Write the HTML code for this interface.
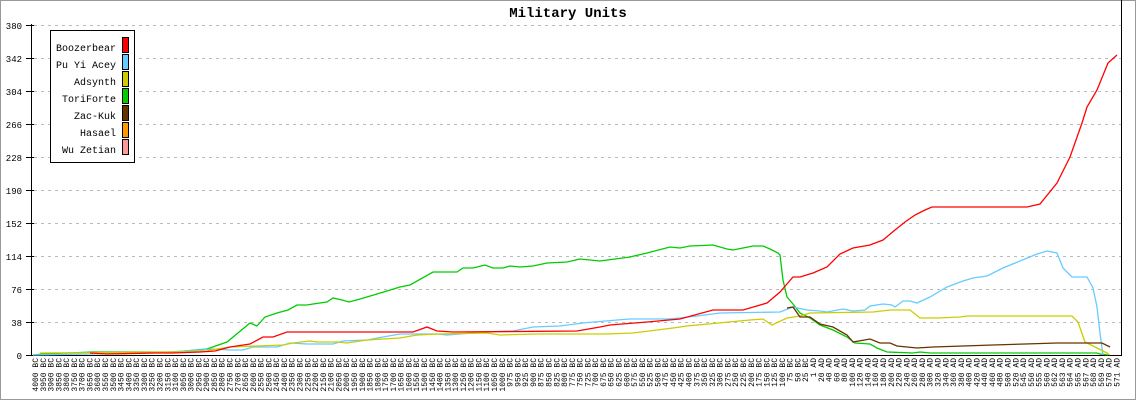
<!DOCTYPE html>
<html><head><meta charset="utf-8"><style>
html,body{margin:0;padding:0;background:#fff;}
svg{display:block;}
text{font-family:"Liberation Mono","DejaVu Sans Mono",monospace;}
</style></head><body>
<svg width="1136" height="400" viewBox="0 0 1136 400" xmlns="http://www.w3.org/2000/svg">
<rect x="0.5" y="0.5" width="1135" height="399" fill="#fff" stroke="#999"/>
<text x="568" y="17" text-anchor="middle" font-size="14" font-weight="bold">Military Units</text>
<g stroke="#bbb" stroke-dasharray="3,4" stroke-width="1">
<line x1="34" x2="1121" y1="25.5" y2="25.5"/><line x1="34" x2="1121" y1="58.5" y2="58.5"/>
<line x1="34" x2="1121" y1="91.5" y2="91.5"/><line x1="34" x2="1121" y1="124.5" y2="124.5"/>
<line x1="34" x2="1121" y1="157.5" y2="157.5"/><line x1="34" x2="1121" y1="190.5" y2="190.5"/>
<line x1="34" x2="1121" y1="223.5" y2="223.5"/><line x1="34" x2="1121" y1="256.5" y2="256.5"/>
<line x1="34" x2="1121" y1="289.5" y2="289.5"/><line x1="34" x2="1121" y1="322.5" y2="322.5"/>
</g>
<g stroke="#000" stroke-width="1">
<line x1="31.5" y1="24" x2="31.5" y2="356"/>
<line x1="31" y1="355.5" x2="1122" y2="355.5"/>
<line x1="1121.5" y1="0" x2="1121.5" y2="356"/>
<line x1="26" x2="34" y1="25.5" y2="25.5"/><line x1="26" x2="34" y1="58.5" y2="58.5"/>
<line x1="26" x2="34" y1="91.5" y2="91.5"/><line x1="26" x2="34" y1="124.5" y2="124.5"/>
<line x1="26" x2="34" y1="157.5" y2="157.5"/><line x1="26" x2="34" y1="190.5" y2="190.5"/>
<line x1="26" x2="34" y1="223.5" y2="223.5"/><line x1="26" x2="34" y1="256.5" y2="256.5"/>
<line x1="26" x2="34" y1="289.5" y2="289.5"/><line x1="26" x2="34" y1="322.5" y2="322.5"/>
<line x1="26" x2="34" y1="355.5" y2="355.5"/>
</g>
<g font-size="9" text-anchor="end">
<text x="22" y="29">380</text><text x="22" y="62">342</text><text x="22" y="95">304</text>
<text x="22" y="128">266</text><text x="22" y="161">228</text><text x="22" y="194">190</text>
<text x="22" y="227">152</text><text x="22" y="260">114</text><text x="22" y="293">76</text>
<text x="22" y="326">38</text><text x="22" y="359">0</text>
</g>
<g fill="none" stroke-width="1.3">
<polyline stroke="#00cc00" points="33,355 43,354 93,352 173,352 207,349 227,342 250,323 257,326 265,317 277,313 288,310 297,305 307,305 313,304 327,302 333,298 342,300 349,302 360,299 377,294 400,287 410,285 433,272 457,272 463,268 473,268 485,265 493,268 503,268 510,266 520,267 533,266 547,263 567,262 580,259 600,261 630,257 647,253 670,247 680,248 690,246 713,245 727,249 733,250 753,246 763,246 770,249 778,253 780,255 783,280 787,297 793,304 800,313 810,318 820,325 833,330 847,337 855,343 870,344 877,348 887,352 913,353 920,352 930,353 1013,353 1017,353 1097,353 1100,354 1108,355"/>
<polyline stroke="#66ccff" points="33,355 87,354 153,353 200,350 213,349 230,350 243,350 253,347 277,347 290,343 307,344 333,344 343,341 367,340 383,337 400,334 437,334 447,335 460,334 483,332 513,331 533,327 560,326 583,323 617,320 630,319 667,319 680,318 697,316 720,313 780,312 793,307 807,310 820,311 827,312 843,309 853,311 865,310 870,306 883,304 892,305 895,307 903,301 910,301 917,303 930,297 947,287 963,281 973,278 987,276 1003,268 1020,261 1037,254 1047,251 1057,253 1063,268 1072,277 1087,277 1093,288 1097,307 1100,333 1103,355"/>
<polyline stroke="#cccc00" points="40,353 173,352 207,351 210,350 230,347 257,346 283,345 293,343 310,341 317,342 337,342 347,343 367,340 400,338 417,335 440,334 487,333 500,335 537,334 583,334 607,334 633,333 673,328 687,326 750,320 763,319 772,325 787,318 800,316 810,313 873,312 890,310 910,310 920,318 937,318 960,317 967,316 1072,316 1078,322 1085,342 1097,348 1107,353 1110,355"/>
<polyline stroke="#663300" points="787,308 793,307 800,317 810,317 820,324 833,327 847,335 853,342 870,339 880,343 890,343 897,346 917,348 933,347 963,346 993,345 1025,344 1057,343 1087,343 1102,343 1110,347"/>
<polyline stroke="#ff0000" points="90,353 107,354 153,353 173,353 200,352 215,351 230,347 250,344 263,337 273,337 287,332 300,332 413,332 427,327 437,331 453,332 577,331 600,327 610,325 647,322 680,319 713,310 743,310 767,303 780,292 793,277 800,277 813,273 827,267 840,254 853,248 870,245 883,240 895,230 905,222 915,215 925,210 932,207 1027,207 1040,204 1057,183 1070,157 1082,123 1087,107 1097,90 1108,63 1117,55"/>
</g>
<rect x="50.5" y="30.5" width="84" height="132" fill="#fff" stroke="#000"/>
<g font-size="10" text-anchor="end">
<text x="116" y="51">Boozerbear</text><text x="116" y="68">Pu Yi Acey</text>
<text x="116" y="85">Adsynth</text><text x="116" y="102">ToriForte</text>
<text x="116" y="119">Zac-Kuk</text><text x="116" y="136">Hasael</text>
<text x="116" y="153">Wu Zetian</text>
</g>
<g stroke="#000">
<rect x="122.5" y="37.5" width="6" height="15" fill="#ff0000"/>
<rect x="122.5" y="54.5" width="6" height="15" fill="#66ccff"/>
<rect x="122.5" y="71.5" width="6" height="15" fill="#cccc00"/>
<rect x="122.5" y="88.5" width="6" height="15" fill="#00cc00"/>
<rect x="122.5" y="105.5" width="6" height="15" fill="#663300"/>
<rect x="122.5" y="122.5" width="6" height="15" fill="#ff9900"/>
<rect x="122.5" y="139.5" width="6" height="15" fill="#ff9999"/>
</g>
<g font-size="8" text-anchor="end" transform="rotate(-90)">
<text x="-358" y="38">4000 BC</text><text x="-358" y="45.8">3950 BC</text><text x="-358" y="53.6">3900 BC</text><text x="-358" y="61.3">3850 BC</text><text x="-358" y="69.1">3800 BC</text><text x="-358" y="76.9">3750 BC</text><text x="-358" y="84.7">3700 BC</text><text x="-358" y="92.5">3650 BC</text><text x="-358" y="100.2">3600 BC</text><text x="-358" y="108">3550 BC</text>
<text x="-358" y="115.8">3500 BC</text><text x="-358" y="123.6">3450 BC</text><text x="-358" y="131.4">3400 BC</text><text x="-358" y="139.1">3350 BC</text><text x="-358" y="146.9">3300 BC</text><text x="-358" y="154.7">3250 BC</text><text x="-358" y="162.5">3200 BC</text><text x="-358" y="170.3">3150 BC</text><text x="-358" y="178">3100 BC</text><text x="-358" y="185.8">3050 BC</text>
<text x="-358" y="193.6">3000 BC</text><text x="-358" y="201.4">2950 BC</text><text x="-358" y="209.2">2900 BC</text><text x="-358" y="216.9">2850 BC</text><text x="-358" y="224.7">2800 BC</text><text x="-358" y="232.5">2750 BC</text><text x="-358" y="240.3">2700 BC</text><text x="-358" y="248.1">2650 BC</text><text x="-358" y="255.8">2600 BC</text><text x="-358" y="263.6">2550 BC</text>
<text x="-358" y="271.4">2500 BC</text><text x="-358" y="279.2">2450 BC</text><text x="-358" y="287">2400 BC</text><text x="-358" y="294.7">2350 BC</text><text x="-358" y="302.5">2300 BC</text><text x="-358" y="310.3">2250 BC</text><text x="-358" y="318.1">2200 BC</text><text x="-358" y="325.9">2150 BC</text><text x="-358" y="333.6">2100 BC</text><text x="-358" y="341.4">2050 BC</text>
<text x="-358" y="349.2">2000 BC</text><text x="-358" y="357">1950 BC</text><text x="-358" y="364.8">1900 BC</text><text x="-358" y="372.5">1850 BC</text><text x="-358" y="380.3">1800 BC</text><text x="-358" y="388.1">1750 BC</text><text x="-358" y="395.9">1700 BC</text><text x="-358" y="403.7">1650 BC</text><text x="-358" y="411.4">1600 BC</text><text x="-358" y="419.2">1550 BC</text>
<text x="-358" y="427">1500 BC</text><text x="-358" y="434.8">1450 BC</text><text x="-358" y="442.6">1400 BC</text><text x="-358" y="450.3">1350 BC</text><text x="-358" y="458.1">1300 BC</text><text x="-358" y="465.9">1250 BC</text><text x="-358" y="473.7">1200 BC</text><text x="-358" y="481.5">1150 BC</text><text x="-358" y="489.2">1100 BC</text><text x="-358" y="497">1050 BC</text>
<text x="-358" y="504.8">1000 BC</text><text x="-358" y="512.6">975 BC</text><text x="-358" y="520.4">950 BC</text><text x="-358" y="528.1">925 BC</text><text x="-358" y="535.9">900 BC</text><text x="-358" y="543.7">875 BC</text><text x="-358" y="551.5">850 BC</text><text x="-358" y="559.3">825 BC</text><text x="-358" y="567">800 BC</text><text x="-358" y="574.8">775 BC</text>
<text x="-358" y="582.6">750 BC</text><text x="-358" y="590.4">725 BC</text><text x="-358" y="598.2">700 BC</text><text x="-358" y="605.9">675 BC</text><text x="-358" y="613.7">650 BC</text><text x="-358" y="621.5">625 BC</text><text x="-358" y="629.3">600 BC</text><text x="-358" y="637.1">575 BC</text><text x="-358" y="644.8">550 BC</text><text x="-358" y="652.6">525 BC</text>
<text x="-358" y="660.4">500 BC</text><text x="-358" y="668.2">475 BC</text><text x="-358" y="676">450 BC</text><text x="-358" y="683.7">425 BC</text><text x="-358" y="691.5">400 BC</text><text x="-358" y="699.3">375 BC</text><text x="-358" y="707.1">350 BC</text><text x="-358" y="714.9">325 BC</text><text x="-358" y="722.6">300 BC</text><text x="-358" y="730.4">275 BC</text>
<text x="-358" y="738.2">250 BC</text><text x="-358" y="746">225 BC</text><text x="-358" y="753.8">200 BC</text><text x="-358" y="761.5">175 BC</text><text x="-358" y="769.3">150 BC</text><text x="-358" y="777.1">125 BC</text><text x="-358" y="784.9">100 BC</text><text x="-358" y="792.7">75 BC</text><text x="-358" y="800.4">50 BC</text><text x="-358" y="808.2">25 BC</text>
<text x="-358" y="816">1 AD</text><text x="-358" y="823.8">20 AD</text><text x="-358" y="831.6">40 AD</text><text x="-358" y="839.3">60 AD</text><text x="-358" y="847.1">80 AD</text><text x="-358" y="854.9">100 AD</text><text x="-358" y="862.7">120 AD</text><text x="-358" y="870.5">140 AD</text><text x="-358" y="878.2">160 AD</text><text x="-358" y="886">180 AD</text>
<text x="-358" y="893.8">200 AD</text><text x="-358" y="901.6">220 AD</text><text x="-358" y="909.4">240 AD</text><text x="-358" y="917.1">260 AD</text><text x="-358" y="924.9">280 AD</text><text x="-358" y="932.7">300 AD</text><text x="-358" y="940.5">320 AD</text><text x="-358" y="948.3">340 AD</text><text x="-358" y="956">360 AD</text><text x="-358" y="963.8">380 AD</text>
<text x="-358" y="971.6">400 AD</text><text x="-358" y="979.4">420 AD</text><text x="-358" y="987.2">440 AD</text><text x="-358" y="994.9">460 AD</text><text x="-358" y="1002.7">480 AD</text><text x="-358" y="1010.5">500 AD</text><text x="-358" y="1018.3">520 AD</text><text x="-358" y="1026.1">545 AD</text><text x="-358" y="1033.8">550 AD</text><text x="-358" y="1041.6">555 AD</text>
<text x="-358" y="1049.4">560 AD</text><text x="-358" y="1057.2">562 AD</text><text x="-358" y="1065">563 AD</text><text x="-358" y="1072.7">564 AD</text><text x="-358" y="1080.5">565 AD</text><text x="-358" y="1088.3">567 AD</text><text x="-358" y="1096.1">568 AD</text><text x="-358" y="1103.9">569 AD</text><text x="-358" y="1111.6">570 AD</text><text x="-358" y="1119.4">571 AD</text>
</g>
</svg>
</body></html>
